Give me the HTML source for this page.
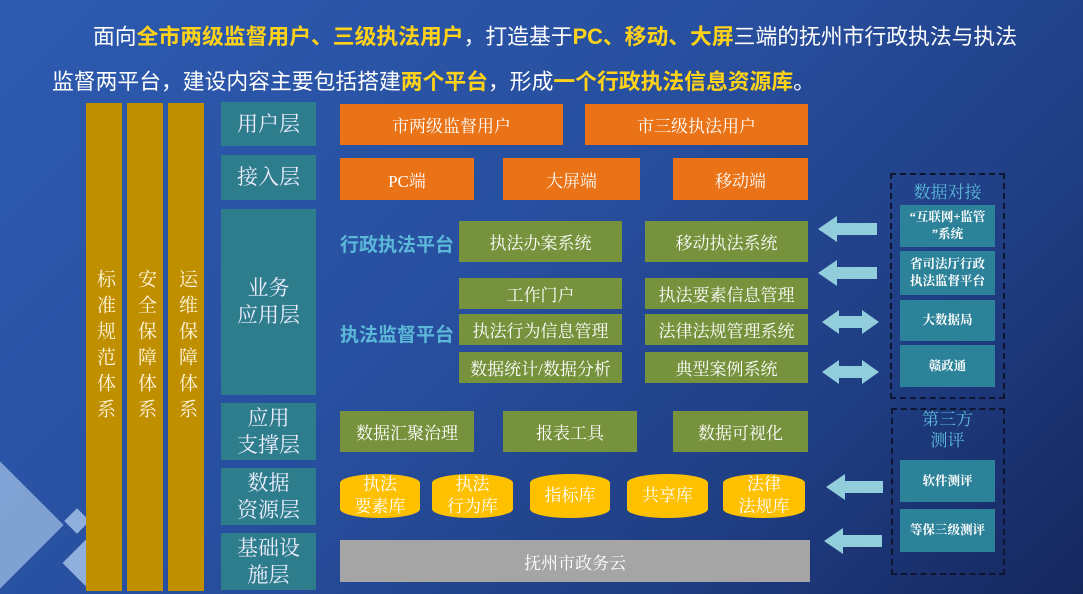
<!DOCTYPE html>
<html><head><meta charset="utf-8"><style>
*{margin:0;padding:0;box-sizing:border-box}
body{width:1083px;height:594px;overflow:hidden;position:relative;font-family:"Liberation Serif","Noto Serif CJK SC",serif;background:linear-gradient(135deg,#2d5bb0 0%,#284f9f 45%,#1f3d82 75%,#15275e 100%)}
.a{position:absolute;display:flex;align-items:center;justify-content:center;text-align:center;color:#fff}
.g{background:#bf8f00;width:36px;top:103px;height:488px;font-size:19px;line-height:24px;writing-mode:vertical-rl;letter-spacing:7px;color:#fff6dd}
.l{background:#2e7d8c;left:221px;width:95px;font-size:21px;line-height:27px;color:#eef}
.o{background:#e97316;font-size:17px}
.gr{background:#77923c;font-size:17px}
.c{background:#ffc000;border-radius:50%/9px;font-size:17px;line-height:22px}
.t{background:#2c8299;left:900px;width:95px;font-size:12.5px;line-height:17px;font-weight:bold}
.p{position:absolute;color:#5cb8d8;font-size:19px;font-family:"Liberation Sans","Noto Sans CJK SC",sans-serif;font-weight:bold}
.h{position:absolute;color:#fff;font-size:21.8px;font-family:"Liberation Sans","Noto Sans CJK SC",sans-serif;white-space:nowrap}
.h b{color:#ffd21a}
.d{position:absolute;border:2px dashed #0d1530}
</style></head><body>
<div style="position:absolute;left:-45px;top:480px;width:90px;height:90px;background:#8fb0dc;transform:rotate(45deg);opacity:.85"></div>
<div style="position:absolute;left:68px;top:512px;width:18px;height:18px;background:#8fb0dc;transform:rotate(45deg)"></div>
<div style="position:absolute;left:70px;top:545px;width:36px;height:36px;background:#8fb0dc;transform:rotate(45deg)"></div>
<div class="h" style="left:93px;top:20px">面向<b>全市两级监督用户、三级执法用户</b>，打造基于<b>PC、移动、大屏</b>三端的抚州市行政执法与执法</div>
<div class="h" style="left:52px;top:65px">监督两平台，建设内容主要包括搭建<b>两个平台</b>，形成<b>一个行政执法信息资源库</b>。</div>
<div class="a g" style="left:86px">标准规范体系</div>
<div class="a g" style="left:127px">安全保障体系</div>
<div class="a g" style="left:168px">运维保障体系</div>
<div class="a l" style="top:102px;height:44px">用户层</div>
<div class="a l" style="top:155px;height:45px">接入层</div>
<div class="a l" style="top:209px;height:186px">业务<br>应用层</div>
<div class="a l" style="top:403px;height:57px">应用<br>支撑层</div>
<div class="a l" style="top:468px;height:57px">数据<br>资源层</div>
<div class="a l" style="top:533px;height:57px">基础设<br>施层</div>
<div class="a o" style="left:340px;top:104px;width:223px;height:41px">市两级监督用户</div>
<div class="a o" style="left:585px;top:104px;width:223px;height:41px">市三级执法用户</div>
<div class="a o" style="left:340px;top:158px;width:134px;height:42px">PC端</div>
<div class="a o" style="left:503px;top:158px;width:137px;height:42px">大屏端</div>
<div class="a o" style="left:673px;top:158px;width:135px;height:42px">移动端</div>
<div class="p" style="left:340px;top:230px">行政执法平台</div>
<div class="p" style="left:340px;top:320px">执法监督平台</div>
<div class="a gr" style="left:459px;top:221px;width:163px;height:41px">执法办案系统</div>
<div class="a gr" style="left:645px;top:221px;width:163px;height:41px">移动执法系统</div>
<div class="a gr" style="left:459px;top:278px;width:163px;height:31px">工作门户</div>
<div class="a gr" style="left:645px;top:278px;width:163px;height:31px">执法要素信息管理</div>
<div class="a gr" style="left:459px;top:314px;width:163px;height:31px">执法行为信息管理</div>
<div class="a gr" style="left:645px;top:314px;width:163px;height:31px">法律法规管理系统</div>
<div class="a gr" style="left:459px;top:352px;width:163px;height:31px">数据统计/数据分析</div>
<div class="a gr" style="left:645px;top:352px;width:163px;height:31px">典型案例系统</div>
<div class="a gr" style="left:340px;top:411px;width:134px;height:41px">数据汇聚治理</div>
<div class="a gr" style="left:503px;top:411px;width:134px;height:41px">报表工具</div>
<div class="a gr" style="left:673px;top:411px;width:135px;height:41px">数据可视化</div>
<div class="a c" style="left:340px;top:474px;width:80px;height:44px">执法<br>要素库</div>
<div class="a c" style="left:432px;top:474px;width:81px;height:44px">执法<br>行为库</div>
<div class="a c" style="left:530px;top:474px;width:80px;height:44px">指标库</div>
<div class="a c" style="left:627px;top:474px;width:81px;height:44px">共享库</div>
<div class="a c" style="left:723px;top:474px;width:82px;height:44px">法律<br>法规库</div>
<div class="a" style="left:340px;top:540px;width:470px;height:42px;background:#a5a5a5;font-size:17px">抚州市政务云</div>
<svg style="position:absolute;left:0;top:0" width="1083" height="594">
<g fill="#92cddc">
<polygon points="818,229 837,216 837,223 877,223 877,235 837,235 837,242"/>
<polygon points="818,273 837,260 837,267 877,267 877,279 837,279 837,286"/>
<polygon points="822,322 839,310 839,316 862,316 862,310 879,322 862,334 862,328 839,328 839,334"/>
<polygon points="822,372 839,360 839,366 862,366 862,360 879,372 862,384 862,378 839,378 839,384"/>
<polygon points="826,487 845,474 845,481 883,481 883,493 845,493 845,500"/>
<polygon points="824,541 843,528 843,535 882,535 882,547 843,547 843,554"/>
</g></svg>
<div class="d" style="left:890px;top:173px;width:115px;height:226px"></div>
<div class="d" style="left:891px;top:408px;width:114px;height:167px"></div>
<div class="a" style="left:890px;top:178px;width:115px;height:24px;color:#5cb8d8;font-size:17px">数据对接</div>
<div class="a" style="left:890px;top:410px;width:115px;height:40px;color:#5cb8d8;font-size:17px;line-height:21px">第三方<br>测评</div>
<div class="a t" style="top:205px;height:42px">“互联网+监管<br>”系统</div>
<div class="a t" style="top:251px;height:44px">省司法厅行政<br>执法监督平台</div>
<div class="a t" style="top:300px;height:41px">大数据局</div>
<div class="a t" style="top:345px;height:42px">赣政通</div>
<div class="a t" style="top:460px;height:42px">软件测评</div>
<div class="a t" style="top:509px;height:43px">等保三级测评</div>
</body></html>
